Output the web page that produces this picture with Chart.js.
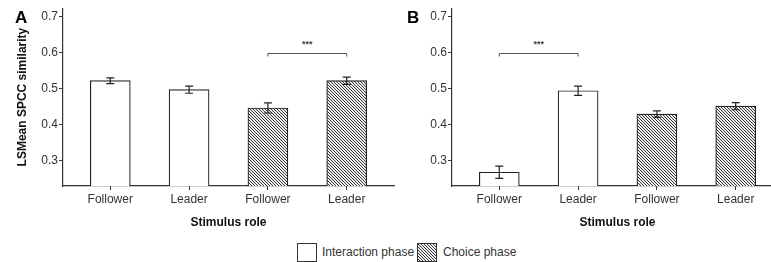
<!DOCTYPE html>
<html>
<head>
<meta charset="utf-8">
<script src="https://cdn.jsdelivr.net/npm/chart.js@4"></script>
<style>
  html, body { margin: 0; padding: 0; background: #fff; width: 771px; height: 262px; overflow: hidden; }
  .panel { position: absolute; top: 0; width: 400px; height: 232px; }
  #legend { position: absolute; top: 243px; left: 297px; font: 12px "Liberation Sans", Arial, sans-serif; color: #333; }
  .lbox { position: absolute; top: 0; width: 18px; height: 17px; border: 1px solid #333; background: #fff; }
  .ltxt { position: absolute; top: 1px; white-space: nowrap; line-height: 16px; }
</style>
</head>
<body>
<div class="panel" id="pa" style="left:0px"><canvas id="ca" width="400" height="232"></canvas></div>
<div class="panel" id="pb" style="left:389px"><canvas id="cb" width="400" height="232"></canvas></div>
<div id="legend">
  <div class="lbox" style="left:0px"></div>
  <div class="ltxt" style="left:25px">Interaction phase</div>
  <div class="lbox" id="hatchBox" style="left:120px"></div>
  <div class="ltxt" style="left:146px">Choice phase</div>
</div>
<script>
// ---- data ----
const categories = ["Follower", "Leader", "Follower", "Leader"];
const phases = ["Interaction phase", "Interaction phase", "Choice phase", "Choice phase"];
const panelLabels = ["A", "B"];
const meansA = [0.522, 0.497, 0.446, 0.522];
const errorsA = [0.008, 0.010, 0.014, 0.010];
const meansB = [0.267, 0.494, 0.429, 0.451];
const errorsB = [0.017, 0.013, 0.009, 0.010];
const yTicks = [0.3, 0.4, 0.5, 0.6, 0.7];
const sigA = { from: 2, to: 3, level: 0.6, label: "***" };
const sigB = { from: 0, to: 1, level: 0.6, label: "***" };
const yTitle = "LSMean SPCC similarity";
const xTitle = "Stimulus role";

// ---- hatch pattern ----
const tile = document.createElement('canvas');
tile.width = 3; tile.height = 3;
const tctx = tile.getContext('2d');
for (let x = 0; x < 3; x++) for (let y = 0; y < 3; y++) {
  tctx.fillStyle = (((x - y) % 3) + 3) % 3 === 0 ? '#3a3a3a' : '#eeeeee';
  tctx.fillRect(x, y, 1, 1);
}
const hatch = tctx.createPattern(tile, 'repeat');
document.getElementById('hatchBox').style.background = 'url(' + tile.toDataURL() + ') repeat';

const FONT = "'Liberation Sans', Arial, sans-serif";

function makeDatasets(means, errors) {
  const ds = [];
  ["Interaction phase", "Choice phase"].forEach(ph => {
    const pts = [], errs = [];
    means.forEach((m, i) => { if (phases[i] === ph) { pts.push({ x: i, y: m }); errs.push(errors[i]); } });
    ds.push({
      label: ph, data: pts, errors: errs,
      backgroundColor: ph === "Choice phase" ? hatch : '#ffffff',
      borderColor: '#222', borderWidth: 1.2, borderSkipped: 'bottom',
      barThickness: 40, grouped: false
    });
  });
  return ds;
}

const overlayPlugin = {
  id: 'overlay',
  afterDatasetsDraw(chart, args, opts) {
    const ctx = chart.ctx, xs = chart.scales.x, ys = chart.scales.y;
    ctx.save();
    chart.data.datasets.forEach((ds) => {
      ds.data.forEach((p, i) => {
        const e = ds.errors[i];
        const px = xs.getPixelForValue(p.x);
        const y1 = ys.getPixelForValue(p.y + e), y2 = ys.getPixelForValue(p.y - e);
        ctx.strokeStyle = '#222'; ctx.lineWidth = 1.2;
        ctx.beginPath();
        ctx.moveTo(px, y1); ctx.lineTo(px, y2);
        ctx.moveTo(px - 4, y1); ctx.lineTo(px + 4, y1);
        ctx.moveTo(px - 4, y2); ctx.lineTo(px + 4, y2);
        ctx.stroke();
      });
    });
    const s = opts.sig;
    const xa = xs.getPixelForValue(s.from), xb = xs.getPixelForValue(s.to);
    const yl = Math.round(ys.getPixelForValue(s.level)) + 0.5;
    ctx.strokeStyle = '#555'; ctx.lineWidth = 1;
    ctx.beginPath();
    ctx.moveTo(xa, yl + 3); ctx.lineTo(xa, yl); ctx.lineTo(xb, yl); ctx.lineTo(xb, yl + 3);
    ctx.stroke();
    ctx.fillStyle = '#444';
    ctx.font = "bold 9px " + FONT;
    ctx.textAlign = 'center'; ctx.textBaseline = 'middle';
    ctx.fillText(s.label, (xa + xb) / 2, yl - 9);
    ctx.fillStyle = '#000';
    ctx.font = "bold 17px " + FONT;
    ctx.textAlign = 'left'; ctx.textBaseline = 'middle';
    ctx.fillText(opts.panel, opts.panelX, 18);
    ctx.restore();
  }
};

function makeChart(id, means, errors, sig, panel, panelX, showYTitle) {
  return new Chart(document.getElementById(id), {
    type: 'bar',
    data: { datasets: makeDatasets(means, errors) },
    plugins: [overlayPlugin],
    options: {
      responsive: false, animation: false,
      layout: { padding: { top: 8, right: 6, left: 0, bottom: 0 } },
      plugins: { legend: { display: false }, tooltip: { enabled: false },
                 overlay: { sig: sig, panel: panel, panelX: panelX } },
      scales: {
        x: {
          type: 'linear', min: -0.6, max: 3.6, offset: false,
          afterBuildTicks: sc => { sc.ticks = categories.map((c, i) => ({ value: i })); },
          afterFit: sc => { sc.height = 46; },
          ticks: { callback: v => categories[v], color: '#333', font: { family: FONT, size: 12 }, padding: 2, maxRotation: 0, autoSkip: false },
          grid: { display: true, offset: false, drawOnChartArea: false, tickLength: 4, color: '#333', lineWidth: 1 },
          border: { display: true, color: '#333', width: 1.2 },
          title: { display: true, text: xTitle, color: '#111', font: { family: FONT, size: 12, weight: 'bold' }, padding: { top: 0, bottom: 2 } }
        },
        y: {
          min: 0.2286, max: 0.724,
          afterBuildTicks: sc => { sc.ticks = yTicks.map(v => ({ value: v })); },
          afterFit: sc => { sc.width = 63; },
          ticks: { callback: v => v.toFixed(1), color: '#333', font: { family: FONT, size: 12 }, padding: 1 },
          grid: { display: true, drawOnChartArea: false, tickLength: 4, color: '#333', lineWidth: 1 },
          border: { display: true, color: '#333', width: 1.2 },
          title: { display: showYTitle, text: yTitle, color: '#111', font: { family: FONT, size: 12, weight: 'bold' }, padding: { top: 15, bottom: 0 } }
        }
      }
    }
  });
}

makeChart('ca', meansA, errorsA, sigA, panelLabels[0], 15, true);
makeChart('cb', meansB, errorsB, sigB, panelLabels[1], 18, false);
</script>
</body>
</html>
